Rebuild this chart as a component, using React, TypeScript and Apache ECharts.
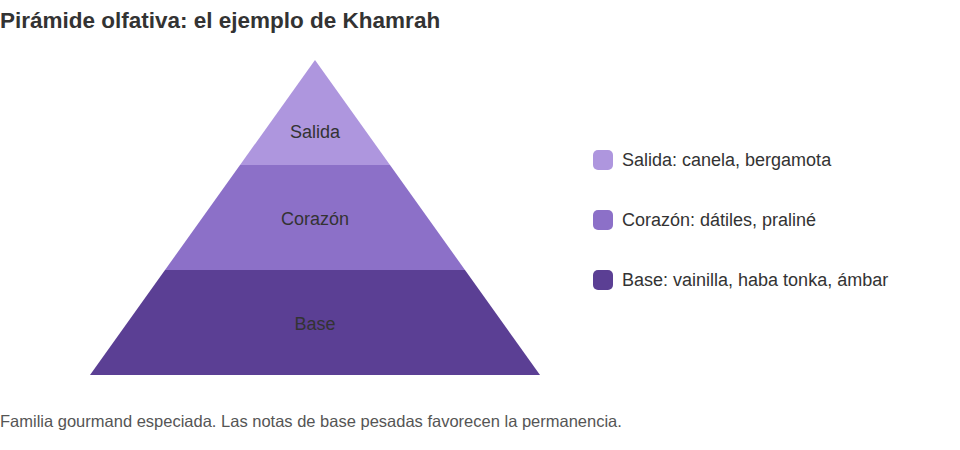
import React, { useEffect, useRef } from 'react';
import * as echarts from 'echarts';

// capas de la pirámide (de arriba abajo)
const layerNames = ['Salida', 'Corazón', 'Base'];
const layerLevels = [1, 2, 3];
const layerNotes = ['canela, bergamota', 'dátiles, praliné', 'vainilla, haba tonka, ámbar'];
const layerColors = ['#ae96de', '#8c70c8', '#5b3f94'];

const titleText = 'Pirámide olfativa: el ejemplo de Khamrah';
const footerText = 'Familia gourmand especiada. Las notas de base pesadas favorecen la permanencia.';

const FONT = '"Liberation Sans", Arial, sans-serif';

const App: React.FC = () => {
  const chartRef = useRef<HTMLDivElement>(null);

  useEffect(() => {
    if (!chartRef.current) return;
    const chart = echarts.init(chartRef.current, null, { renderer: 'svg' });

    const notesByName: Record<string, string> = {};
    layerNames.forEach((n, i) => {
      notesByName[n] = layerNotes[i];
    });

    const options: echarts.EChartsOption = {
      animation: false,
      textStyle: { fontFamily: FONT },
      title: {
        text: titleText,
        left: 0,
        top: 9,
        padding: 0,
        textStyle: { fontSize: 22.5, fontWeight: 'bold', color: '#333', fontFamily: FONT }
      },
      legend: {
        orient: 'vertical',
        left: 593,
        top: 150,
        padding: 0,
        itemWidth: 20,
        itemHeight: 20,
        itemGap: 40,
        icon: 'roundRect',
        data: layerNames,
        formatter: (name: string) => `${name}: ${notesByName[name]}`,
        textStyle: { fontSize: 18, color: '#333', fontFamily: FONT, padding: [0, 0, 0, 4] }
      },
      graphic: [
        {
          type: 'text',
          left: 0,
          top: 412,
          style: { text: footerText, fill: '#555', font: `16.5px ${FONT}` }
        }
      ],
      series: [
        {
          type: 'funnel',
          sort: 'ascending',
          left: 90,
          top: 60,
          width: 450,
          height: 315,
          min: 0,
          max: 3,
          minSize: '0%',
          maxSize: '100%',
          gap: 0,
          label: {
            show: true,
            position: 'inside',
            fontSize: 18,
            color: '#333',
            fontFamily: FONT
          },
          labelLine: { show: false },
          // la etiqueta del triángulo superior va en su centroide
          labelLayout: (params: any) => (params.dataIndex === 0 ? { dy: 19 } : { dy: 1 }),
          itemStyle: { borderWidth: 0 },
          emphasis: { disabled: true },
          data: layerNames.map((name, i) => ({
            name,
            value: layerLevels[i],
            itemStyle: { color: layerColors[i] }
          }))
        }
      ]
    };

    chart.setOption(options);

    return () => {
      chart.dispose();
    };
  }, []);

  return (
    <div
      ref={chartRef}
      style={{ position: 'absolute', left: 0, top: 0, width: 960, height: 450 }}
    />
  );
};

export default App;
